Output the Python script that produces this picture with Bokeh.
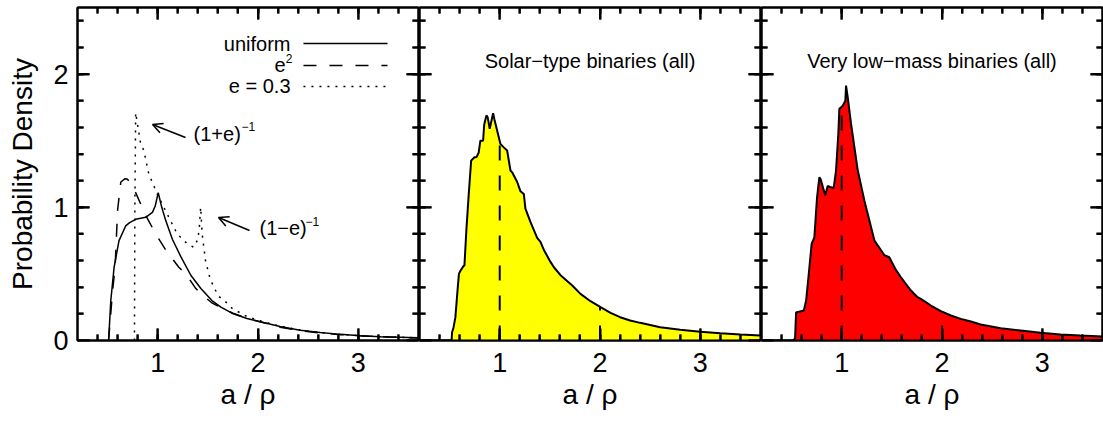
import numpy as np
from bokeh.plotting import figure
from bokeh.layouts import row
from bokeh.models import LinearAxis, FixedTicker, Label, Arrow, OpenHead
from bokeh.embed import file_html
from bokeh.resources import INLINE

# ---------------- data ----------------
uniform_x = [0.51, 0.532, 0.565, 0.614, 0.68, 0.72, 0.78, 0.88, 0.947, 0.975, 1.005,
             1.04, 1.08, 1.146, 1.23, 1.33, 1.43, 1.54, 1.63, 1.74, 1.89, 2.0,
             2.22, 2.42, 2.62, 2.82, 3.02, 3.22, 3.6]
uniform_y = [0.0, 0.30, 0.55, 0.75, 0.86, 0.885, 0.91, 0.925, 0.962, 1.01, 1.11,
             1.0, 0.90, 0.76, 0.63, 0.49, 0.39, 0.30, 0.25, 0.205, 0.165, 0.145,
             0.105, 0.077, 0.06, 0.046, 0.036, 0.029, 0.02]

esq_x = [0.51, 0.55, 0.575, 0.60, 0.632, 0.675, 0.70, 0.78, 0.88, 0.98, 1.08,
         1.21, 1.28, 1.38, 1.433, 1.544, 1.66, 1.75, 1.91, 2.0,
         2.22, 2.42, 2.62, 2.82, 3.02, 3.22, 3.6]
esq_y = [0.0, 0.375, 0.55, 0.98, 1.19, 1.215, 1.21, 1.11, 0.94, 0.80, 0.68,
         0.55, 0.50, 0.39, 0.35, 0.28, 0.235, 0.205, 0.16, 0.145,
         0.10, 0.074, 0.057, 0.044, 0.035, 0.028, 0.019]

e03_x = [0.768, 0.772, 0.78, 0.83, 0.86, 0.911, 0.995, 1.094, 1.194, 1.294, 1.36,
         1.40, 1.415, 1.428, 1.443, 1.476, 1.52, 1.559, 1.61, 1.693, 1.743, 1.89,
         2.0, 2.22, 2.42, 2.62, 2.82, 3.02, 3.22, 3.6]
e03_y = [0.0, 1.0, 1.71, 1.476, 1.43, 1.25, 1.10, 0.95, 0.80, 0.726, 0.70,
         0.76, 0.85, 1.0, 0.80, 0.60, 0.47, 0.40, 0.33, 0.28, 0.24, 0.18,
         0.152, 0.107, 0.078, 0.06, 0.046, 0.036, 0.029, 0.02]

solar_x = [0.20, 0.52, 0.525, 0.54, 0.558, 0.575, 0.593, 0.61, 0.64, 0.648, 0.668,
           0.69, 0.715, 0.748, 0.767, 0.79, 0.807, 0.834, 0.845, 0.867, 0.88, 0.90,
           0.934, 0.947, 0.974, 1.007, 1.04, 1.074, 1.107, 1.124, 1.174, 1.207, 1.24,
           1.256, 1.306, 1.373, 1.406, 1.44, 1.506, 1.54, 1.606, 1.706, 1.74, 1.805,
           1.905, 2.005, 2.105, 2.20, 2.30, 2.40, 2.60, 2.80, 3.00, 3.20, 3.40, 3.60]
solar_y = [0.0, 0.0, 0.0625, 0.10, 0.175, 0.3375, 0.50, 0.525, 0.56, 0.5625, 0.8375,
           1.0875, 1.35, 1.376, 1.375, 1.41, 1.50, 1.50, 1.62, 1.69, 1.675, 1.59,
           1.706, 1.66, 1.577, 1.476, 1.45, 1.426, 1.276, 1.2625, 1.19, 1.12, 1.10,
           0.99, 0.89, 0.77, 0.74, 0.68, 0.59, 0.55, 0.49, 0.425, 0.40, 0.35,
           0.295, 0.25, 0.2075, 0.175, 0.15, 0.1325, 0.10, 0.08, 0.066, 0.055, 0.045, 0.038]

vlm_x = [0.2, 0.52, 0.535, 0.545, 0.555, 0.622, 0.645, 0.668, 0.70, 0.727, 0.754,
         0.777, 0.79, 0.835, 0.86, 0.894, 0.92, 0.943, 0.966, 0.976, 0.993, 1.01,
         1.036, 1.043, 1.06, 1.093, 1.16, 1.226, 1.326, 1.426, 1.474, 1.54, 1.59,
         1.69, 1.756, 1.789, 1.889, 1.988, 2.088, 2.187, 2.287, 2.386, 2.585, 2.784,
         2.983, 3.18, 3.38, 3.6]
vlm_y = [0.0, 0.0, 0.02, 0.2125, 0.2125, 0.225, 0.30, 0.475, 0.725, 0.775, 1.075,
         1.226, 1.21, 1.09, 1.16, 1.15, 1.145, 1.276, 1.55, 1.74, 1.75, 1.7625,
         1.80, 1.914, 1.826, 1.626, 1.276, 1.05, 0.75, 0.64, 0.625, 0.53, 0.475,
         0.375, 0.325, 0.3125, 0.2625, 0.22, 0.1875, 0.1625, 0.1425, 0.12, 0.0925, 0.075,
         0.0575, 0.045, 0.0375, 0.03]

ref_x = [1.0, 2.0]

x_lim = (0.2, 3.6)
y_lim = (0.0, 2.5)
x_major = [1, 2, 3]
x_minor = [round(0.2 * i, 1) for i in range(2, 18)]
y_major = [0, 1, 2]
y_minor = [round(0.2 * i, 1) for i in range(1, 13)]

titles = ["Solar\u2212type binaries (all)", "Very low\u2212mass binaries (all)"]
legend_labels = ["uniform", "e", "e = 0.3"]

# ---------------- layout / style ----------------
FONT = "Liberation Sans"
H = 421
FRAME_W = 341
FRAME_H = 333
MAJ_PX = 12
MIN_PX = 6
DX = (x_lim[1] - x_lim[0]) / FRAME_W   # data units per pixel
DY = (y_lim[1] - y_lim[0]) / FRAME_H


def tick_mark(p, x0, y0, x1, y1):
    p.add_layout(Arrow(end=None, start=None, x_start=x0, y_start=y0, x_end=x1, y_end=y1,
                       line_color="black", line_width=2))


def inward_ticks(p):
    """gnuplot-style ticks pointing into the frame on all four sides (headless arrows)."""
    for ticks, px in ((x_minor, MIN_PX), (x_major, MAJ_PX)):
        for t in ticks:
            t = float(t)
            tick_mark(p, t, y_lim[0], t, y_lim[0] + px * DY)
            tick_mark(p, t, y_lim[1], t, y_lim[1] - px * DY)
    for ticks, px in ((y_minor, MIN_PX), (y_major, MAJ_PX)):
        for t in ticks:
            t = float(t)
            tick_mark(p, x_lim[0], t, x_lim[0] + px * DX, t)
            tick_mark(p, x_lim[1], t, x_lim[1] - px * DX, t)


def style_axis(ax, ticks, minor, labels):
    ax.ticker = FixedTicker(ticks=ticks, minor_ticks=minor)
    ax.major_tick_in = 12
    ax.major_tick_out = 0
    ax.minor_tick_in = 6
    ax.minor_tick_out = 0
    ax.major_tick_line_width = 2
    ax.minor_tick_line_width = 2
    ax.major_tick_line_color = "black"
    ax.minor_tick_line_color = "black"
    ax.axis_line_width = 2
    ax.axis_line_color = "black"
    ax.major_label_text_font = FONT
    ax.major_label_text_color = "black"
    if labels:
        ax.major_label_text_font_size = "27px"
    else:
        ax.major_label_text_font_size = "0px"
        ax.major_label_standoff = 0


def make_fig(width, left, right, ylabels):
    p = figure(width=width, height=H, x_range=x_lim, y_range=y_lim,
               min_border_left=left, min_border_right=right,
               min_border_top=7, min_border_bottom=81,
               output_backend="svg", toolbar_location=None)
    p.xgrid.visible = False
    p.ygrid.visible = False
    p.outline_line_color = "black"
    p.outline_line_width = 2
    p.background_fill_color = "white"
    p.border_fill_color = "white"
    style_axis(p.xaxis[0], x_major, x_minor, True)
    p.xaxis[0].major_label_standoff = 12
    p.xaxis[0].axis_label = "a / \u03c1"
    p.xaxis[0].axis_label_text_font = FONT
    p.xaxis[0].axis_label_text_font_size = "28px"
    p.xaxis[0].axis_label_text_font_style = "normal"
    p.xaxis[0].axis_label_text_color = "black"
    p.xaxis[0].axis_label_standoff = 4
    style_axis(p.yaxis[0], y_major, y_minor, ylabels)
    if ylabels:
        p.yaxis[0].major_label_standoff = 9
        p.yaxis[0].axis_label = "Probability Density"
        p.yaxis[0].axis_label_text_font = FONT
        p.yaxis[0].axis_label_text_font_size = "28px"
        p.yaxis[0].axis_label_text_font_style = "normal"
        p.yaxis[0].axis_label_text_color = "black"
        p.yaxis[0].axis_label_standoff = 12
    top = LinearAxis()
    style_axis(top, x_major, x_minor, False)
    p.add_layout(top, "above")
    rgt = LinearAxis()
    style_axis(rgt, y_major, y_minor, False)
    p.add_layout(rgt, "right")
    return p


# ---------------- left panel ----------------
p1 = make_fig(419, 77, 1, True)
p1.line(uniform_x, uniform_y, line_color="black", line_width=1.5)
p1.line(esq_x, esq_y, line_color="black", line_width=1.5, line_dash="13 13")
p1.line(e03_x, e03_y, line_color="black", line_width=1.5, line_dash="2 6")

# legend (text to the left of the sample, gnuplot style)
leg_y = [2.229, 2.065, 1.907]
leg_dash = ["solid", "13 13", "2 6"]
for yy, dash in zip(leg_y, leg_dash):
    p1.line([2.453, 3.291], [yy, yy], line_color="black", line_width=1.5, line_dash=dash)
p1.add_layout(Label(x=2.324, y=leg_y[0], text=legend_labels[0], text_align="right",
                    text_baseline="middle", text_font=FONT, text_font_size="20px",
                    text_color="black"))
p1.add_layout(Label(x=2.274, y=leg_y[1], text=legend_labels[1], text_align="right",
                    text_baseline="middle", text_font=FONT, text_font_size="20px",
                    text_color="black"))
p1.add_layout(Label(x=2.276, y=leg_y[1] + 0.055, text="2", text_align="left",
                    text_baseline="middle", text_font=FONT, text_font_size="12px",
                    text_color="black"))
p1.add_layout(Label(x=2.324, y=leg_y[2], text=legend_labels[2], text_align="right",
                    text_baseline="middle", text_font=FONT, text_font_size="20px",
                    text_color="black"))

# annotations
p1.add_layout(Arrow(end=OpenHead(size=10, line_width=1.5), x_start=1.277, y_start=1.524,
                    x_end=0.948, y_end=1.622, line_width=1.5))
p1.add_layout(Arrow(end=OpenHead(size=10, line_width=1.5), x_start=1.915, y_start=0.826,
                    x_end=1.606, y_end=0.923, line_width=1.5))
p1.add_layout(Label(x=1.357, y=1.554, text="(1+e)", text_baseline="middle",
                    text_font=FONT, text_font_size="20px", text_color="black"))
p1.add_layout(Label(x=1.835, y=1.607, text="\u22121", text_baseline="middle",
                    text_font=FONT, text_font_size="12px", text_color="black"))
p1.add_layout(Label(x=2.015, y=0.848, text="(1\u2212e)", text_baseline="middle",
                    text_font=FONT, text_font_size="20px", text_color="black"))
p1.add_layout(Label(x=2.473, y=0.896, text="\u22121", text_baseline="middle",
                    text_font=FONT, text_font_size="12px", text_color="black"))
inward_ticks(p1)


def hist_panel(width, xs, ys, color, title):
    p = make_fig(width, 0, 1, False)
    p.varea(x=xs, y1=0, y2=ys, fill_color=color)
    hts = np.interp(ref_x, xs, ys)
    p.segment(x0=ref_x, y0=[0] * len(ref_x), x1=ref_x, y1=list(hts),
              line_color="black", line_width=2, line_dash="15 15")
    p.line(xs, ys, line_color="black", line_width=2)
    p.add_layout(Label(x=1.9, y=2.102, text=title, text_align="center",
                       text_baseline="middle", text_font=FONT, text_font_size="20px",
                       text_color="black"))
    inward_ticks(p)
    return p


p2 = hist_panel(342, solar_x, solar_y, "#ffff00", titles[0])
p3 = hist_panel(342, vlm_x, vlm_y, "#ff0000", titles[1])

layout = row(p1, p2, p3)
open("out.html", "w").write(file_html(layout, INLINE))
